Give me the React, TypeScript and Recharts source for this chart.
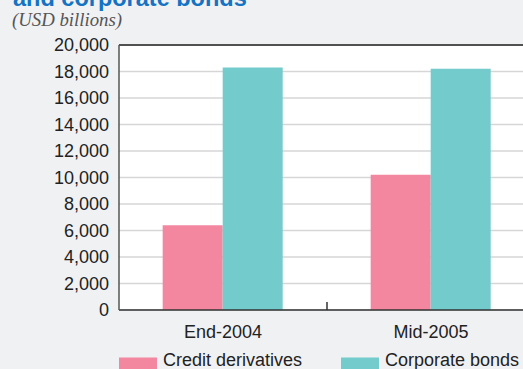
import React from "react";
import {
  BarChart,
  Bar,
  XAxis,
  YAxis,
  CartesianGrid,
  ReferenceLine,
} from "recharts";

const categories = ["End-2004", "Mid-2005"];
const creditDerivatives = [6400, 10200];
const corporateBonds = [18300, 18200];
const yTicks = [0, 2000, 4000, 6000, 8000, 10000, 12000, 14000, 16000, 18000, 20000];
const seriesNames = ["Credit derivatives", "Corporate bonds"];
const titleText = "and corporate bonds";
const unitText = "(USD billions)";

const PINK = "#f2879f";
const TEAL = "#73cbcb";
const FONT = "'Liberation Sans', Arial, Helvetica, sans-serif";

const data = categories.map((c, i) => ({
  name: c,
  credit: creditDerivatives[i],
  bonds: corporateBonds[i],
}));

const fmt = (v: number) => v.toLocaleString("en-US");

export default function App() {
  return (
    <div
      style={{
        position: "fixed",
        left: 0,
        top: 0,
        width: 523,
        height: 369,
        overflow: "hidden",
        background: "#f0f1f3",
      }}
    >
      <div style={{ position: "absolute", left: 0, top: 0 }}>
        <BarChart
          width={545}
          height={369}
          data={data}
          margin={{ top: 45, right: 10, bottom: 0, left: 0 }}
          barCategoryGap="21%"
          barGap={0}
        >
          <CartesianGrid
            vertical={false}
            horizontal={true}
            stroke="#d6d6d6"
            strokeWidth={1.5}
            fill="#ffffff"
          />
          <XAxis
            dataKey="name"
            height={59}
            tickLine={false}
            tickMargin={9}
            axisLine={{ stroke: "#333333", strokeWidth: 1.5 }}
            tick={{ fontSize: 18, fill: "#222222", fontFamily: FONT }}
          />
          <YAxis
            width={119}
            domain={[0, 20000]}
            ticks={yTicks}
            interval={0}
            tickLine={false}
            tickMargin={4}
            tickFormatter={fmt}
            axisLine={{ stroke: "#555555", strokeWidth: 1.5 }}
            tick={{ fontSize: 18, fill: "#222222", fontFamily: FONT }}
          />
          <Bar dataKey="credit" fill={PINK} isAnimationActive={false} />
          <Bar dataKey="bonds" fill={TEAL} isAnimationActive={false} />
          <ReferenceLine y={20000} stroke="#222222" strokeWidth={1.5} />
          <ReferenceLine
            position="end"
            segment={[
              { x: categories[0], y: 0 },
              { x: categories[0], y: 600 },
            ]}
            stroke="#333333"
            strokeWidth={1.5}
          />
        </BarChart>
      </div>
      <svg
        width={523}
        height={369}
        style={{ position: "absolute", left: 0, top: 0, pointerEvents: "none" }}
      >
        <text
          x={13}
          y={5.5}
          fontFamily={FONT}
          fontWeight="bold"
          fontSize={23.5}
          fill="#1473c3"
        >
          {titleText}
        </text>
        <text
          x={12}
          y={26}
          fontFamily="'Liberation Serif', 'Times New Roman', serif"
          fontStyle="italic"
          fontSize={18.8}
          fill="#555555"
        >
          {unitText}
        </text>
        <rect x={119} y={357.5} width={38} height={14} fill={PINK} />
        <text x={163} y={366} fontFamily={FONT} fontSize={18} fill="#222222">
          {seriesNames[0]}
        </text>
        <rect x={341} y={357.5} width={38} height={14} fill={TEAL} />
        <text x={385} y={366} fontFamily={FONT} fontSize={18} fill="#222222">
          {seriesNames[1]}
        </text>
      </svg>
    </div>
  );
}
